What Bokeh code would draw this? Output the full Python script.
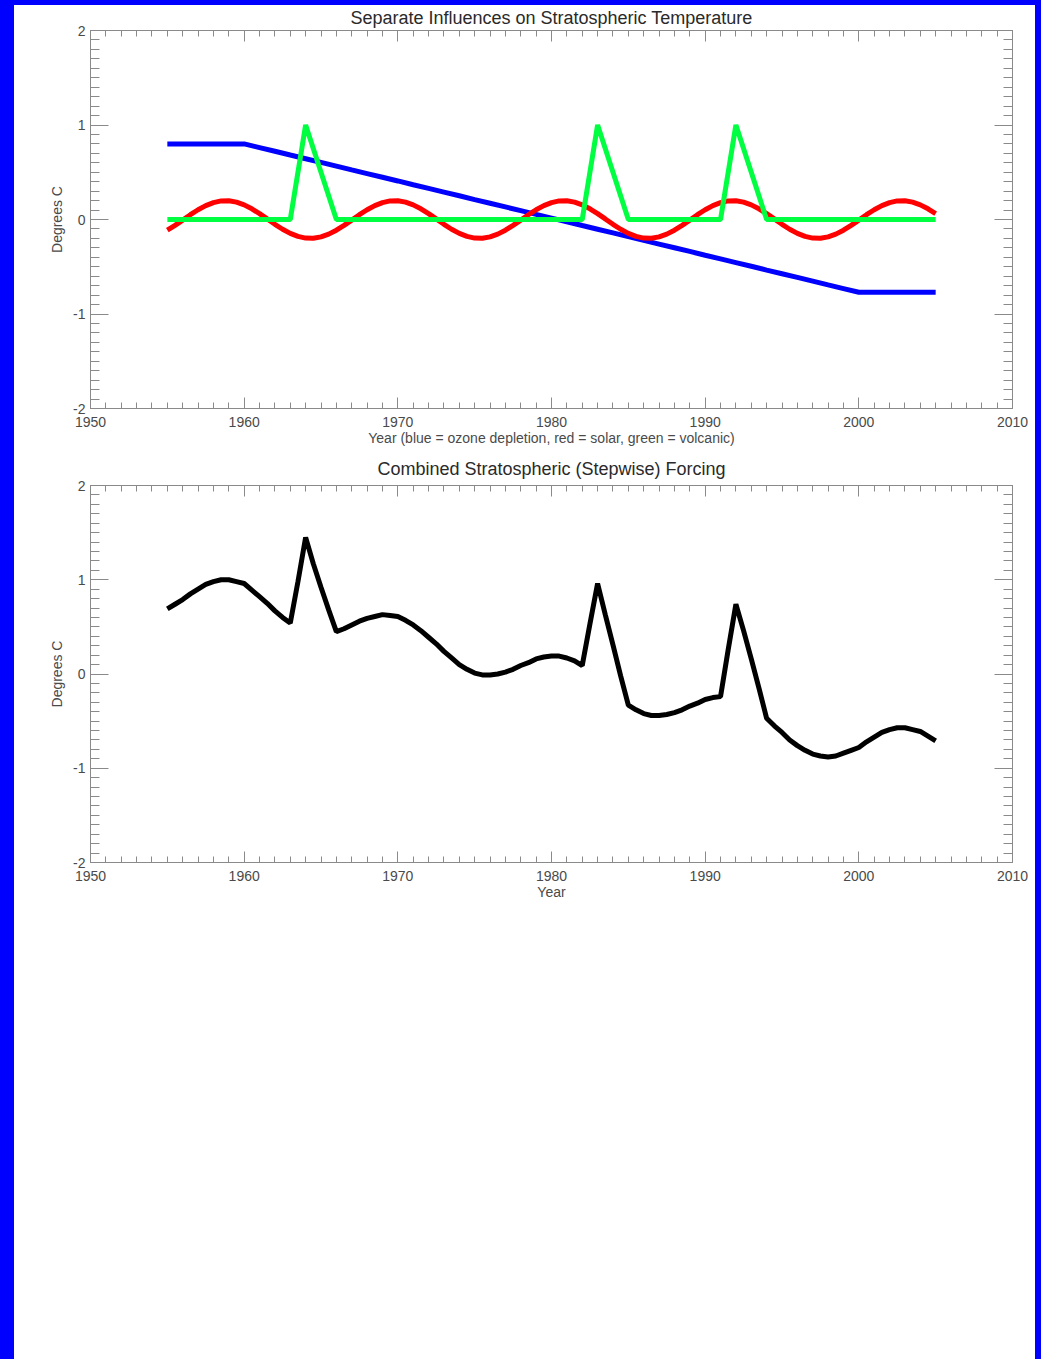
from bokeh.plotting import figure
from bokeh.layouts import column
from bokeh.models import LinearAxis, FixedTicker, Range1d
from bokeh.embed import file_html
from bokeh.resources import INLINE

# ---------------- data ----------------
# annual series (ozone depletion, volcanic)
years = list(range(1955, 2006))

ozone = [0.800, 0.800, 0.800, 0.800, 0.800, 0.800, 0.761, 0.722, 0.682, 0.643,
         0.604, 0.565, 0.525, 0.486, 0.447, 0.408, 0.368, 0.329, 0.290, 0.251,
         0.211, 0.172, 0.133, 0.094, 0.054, 0.015, -0.024, -0.064, -0.103, -0.142,
         -0.181, -0.221, -0.260, -0.299, -0.338, -0.378, -0.417, -0.456, -0.495, -0.535,
         -0.574, -0.613, -0.652, -0.692, -0.731, -0.770, -0.770, -0.770, -0.770, -0.770,
         -0.770]

volcanic = [0, 0, 0, 0, 0, 0, 0, 0, 0, 1.0,
            0.5, 0, 0, 0, 0, 0, 0, 0, 0, 0,
            0, 0, 0, 0, 0, 0, 0, 0, 1.0, 0.5,
            0, 0, 0, 0, 0, 0, 0, 1.0, 0.5, 0,
            0, 0, 0, 0, 0, 0, 0, 0, 0, 0,
            0]

# half-year series (solar cycle, combined forcing)
years_half = [1955 + 0.5 * i for i in range(101)]

solar = [-0.113, -0.062, -0.006, 0.051, 0.103, 0.147, 0.179, 0.197, 0.199, 0.184,
         0.155, 0.113, 0.062, 0.006, -0.051, -0.103, -0.147, -0.179, -0.197, -0.199,
         -0.184, -0.155,
         -0.113, -0.062, -0.006, 0.051, 0.103, 0.147, 0.179, 0.197, 0.199, 0.184,
         0.155, 0.113, 0.062, 0.006, -0.051, -0.103, -0.147, -0.179, -0.197, -0.199,
         -0.184, -0.155,
         -0.113, -0.062, -0.006, 0.051, 0.103, 0.147, 0.179, 0.197, 0.199, 0.184,
         0.155, 0.113, 0.062, 0.006, -0.051, -0.103, -0.147, -0.179, -0.197, -0.199,
         -0.184, -0.155,
         -0.113, -0.062, -0.006, 0.051, 0.103, 0.147, 0.179, 0.197, 0.199, 0.184,
         0.155, 0.113, 0.062, 0.006, -0.051, -0.103, -0.147, -0.179, -0.197, -0.199,
         -0.184, -0.155,
         -0.113, -0.062, -0.006, 0.051, 0.103, 0.147, 0.179, 0.197, 0.199, 0.184,
         0.155, 0.113, 0.062]

combined = [0.69, 0.74, 0.79, 0.85, 0.90, 0.95, 0.98, 1.00, 1.00, 0.98,
            0.96, 0.89, 0.82, 0.75, 0.67, 0.60, 0.54, 0.98, 1.45, 1.17,
            0.92, 0.68, 0.45, 0.48, 0.52, 0.56, 0.59, 0.61, 0.63, 0.62,
            0.61, 0.57, 0.52, 0.46, 0.39, 0.32, 0.24, 0.17, 0.10, 0.05,
            0.01, -0.01, -0.01, 0.00, 0.02, 0.05, 0.09, 0.12, 0.16, 0.18,
            0.19, 0.19, 0.17, 0.14, 0.09, 0.53, 0.96, 0.63, 0.31, -0.02,
            -0.33, -0.38, -0.42, -0.44, -0.44, -0.43, -0.41, -0.38, -0.34, -0.31,
            -0.27, -0.25, -0.24, 0.26, 0.74, 0.46, 0.16, -0.15, -0.47, -0.55,
            -0.62, -0.70, -0.76, -0.81, -0.85, -0.87, -0.88, -0.87, -0.84, -0.81,
            -0.78, -0.72, -0.67, -0.62, -0.59, -0.57, -0.57, -0.59, -0.61, -0.66,
            -0.71]

x_ticks = [1950, 1960, 1970, 1980, 1990, 2000, 2010]
x_minor = list(range(1950, 2011))
y_ticks = [-2, -1, 0, 1, 2]
y_tick_labels = {-2: "-2", -1: "-1", 0: "0", 1: "1", 2: "2"}
y_minor = [round(-2 + 0.1 * i, 1) for i in range(41)]

title1 = "Separate Influences on Stratospheric Temperature"
xlabel1 = "Year (blue = ozone depletion, red = solar, green = volcanic)"
title2 = "Combined Stratospheric (Stepwise) Forcing"
xlabel2 = "Year"
ylabel = "Degrees C"

# ---------------- style ----------------
AX = "#8a8a8a"
LBL = "#4a4a4a"
FONT = "Liberation Sans"


def make_fig(title, xlabel, height, min_top, min_bottom, title_standoff):
    p = figure(width=1021, height=height,
               x_range=Range1d(1950, 2010), y_range=Range1d(-2, 2),
               output_backend="svg", toolbar_location=None,
               min_border_left=76, min_border_right=23,
               min_border_top=min_top, min_border_bottom=min_bottom,
               background_fill_color="white", border_fill_color="white",
               outline_line_color=AX)
    p.title.text = title
    p.title.align = "center"
    p.title.vertical_align = "top"
    p.title.text_font = FONT
    p.title.text_font_size = "18px"
    p.title.text_font_style = "normal"
    p.title.text_color = "#2a2a2a"
    p.title.standoff = title_standoff
    p.xgrid.visible = False
    p.ygrid.visible = False

    p.add_layout(LinearAxis(), "above")
    p.add_layout(LinearAxis(), "right")

    for ax in p.xaxis:
        ax.ticker = FixedTicker(ticks=x_ticks, minor_ticks=x_minor)
        ax.major_tick_in = 11
        ax.minor_tick_in = 6
    for ax in p.yaxis:
        ax.ticker = FixedTicker(ticks=y_ticks, minor_ticks=y_minor)
        ax.major_label_overrides = y_tick_labels
        ax.major_tick_in = 18
        ax.minor_tick_in = 9
    for ax in list(p.xaxis) + list(p.yaxis):
        ax.major_tick_out = 0
        ax.minor_tick_out = 0
        ax.axis_line_color = AX
        ax.major_tick_line_color = AX
        ax.minor_tick_line_color = AX
        ax.major_label_text_font = FONT
        ax.major_label_text_font_size = "14px"
        ax.major_label_text_color = LBL
        ax.axis_label_text_font = FONT
        ax.axis_label_text_font_size = "14px"
        ax.axis_label_text_font_style = "normal"
        ax.axis_label_text_color = LBL

    bottom = p.below[0]
    bottom.axis_label = xlabel
    bottom.major_label_standoff = 8
    bottom.axis_label_standoff = 0
    left = p.left[0]
    left.axis_label = ylabel
    left.major_label_standoff = 5
    left.axis_label_standoff = 5

    # mirrored tick-only axes on top and right (no labels)
    for ax in (p.above[-1], p.right[-1]):
        ax.major_label_text_font_size = "0px"
        ax.major_label_text_color = None
        ax.major_label_standoff = 0
    return p


p1 = make_fig(title1, xlabel1, 447, 25, 44, 2)
p1.line(years, ozone, line_color="#0000ff", line_width=5)
p1.line(years_half, solar, line_color="#ff0000", line_width=5)
p1.line(years, volcanic, line_color="#00ff40", line_width=5)

p2 = make_fig(title2, xlabel2, 907, 33, 497, 10)
p2.line(years_half, combined, line_color="#000000", line_width=5)

layout = column(p1, p2, spacing=0, styles={"background-color": "white"})

TEMPLATE = """
{% block postamble %}
<style>
html, body { background: #0000ff !important; overflow: hidden !important; }
body { margin: 0 !important; padding: 5px 6px 0 14px !important; box-sizing: border-box !important; }
</style>
{% endblock %}
"""

open("out.html", "w").write(file_html(layout, INLINE, template=TEMPLATE))
